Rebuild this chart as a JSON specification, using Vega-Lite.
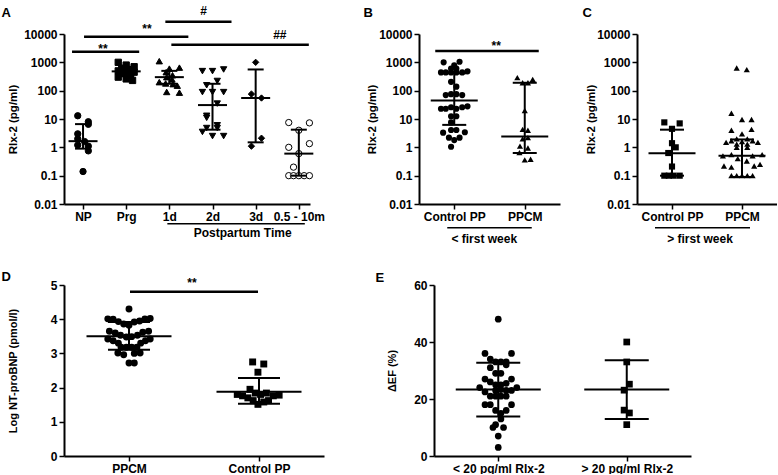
{
"$schema": "https://vega.github.io/schema/vega-lite/v6.json",
"padding": {"left": 1, "top": 4, "right": 0, "bottom": 0},
"bounds": "full",
"spacing": 24,
"resolve": {"scale": {"shape": "independent"}},
"config": {
 "view": {"stroke": null},
 "font": "Liberation Sans",
 "axis": {"domainColor": "black", "domainWidth": 2, "tickColor": "black", "tickWidth": 1.5, "tickSize": 5, "labelColor": "black", "labelFont": "Liberation Sans", "labelFontSize": 12, "labelFontWeight": "bold", "labelPadding": 2, "titleColor": "black", "titleFont": "Liberation Sans", "titleFontSize": 11.5, "titleFontWeight": "bold", "grid": false, "labelOverlap": false},
 "axisX": {"labelAngle": 0, "titleAngle": 0, "titleAlign": "left", "titleBaseline": "top", "titleFontSize": 13, "labelOverlap": false, "labelFlush": false},
 "axisY": {"labelOverlap": false},
 "text": {"font": "Liberation Sans", "fontWeight": "bold", "fontSize": 12, "color": "black"}
},
"datasets": {
 "one": [{}],
 "a_pts": [
  {"g":"NP","v":13,"s":-1},{"g":"NP","v":8,"s":1},{"g":"NP","v":6.5,"s":1},{"g":"NP","v":3,"s":-1},{"g":"NP","v":2,"s":-1},{"g":"NP","v":1.6,"s":0.3},{"g":"NP","v":1.2,"s":-1},{"g":"NP","v":1.1,"s":1},{"g":"NP","v":0.75,"s":1},{"g":"NP","v":0.14,"s":0},
  {"g":"Prg","v":1000,"s":-1.5},{"g":"Prg","v":800,"s":0},{"g":"Prg","v":700,"s":1.5},{"g":"Prg","v":620,"s":-0.8},{"g":"Prg","v":560,"s":0.8},{"g":"Prg","v":500,"s":-1.5},{"g":"Prg","v":480,"s":0},{"g":"Prg","v":450,"s":1.5},{"g":"Prg","v":400,"s":-0.8},{"g":"Prg","v":350,"s":0.8},{"g":"Prg","v":300,"s":-1.5},{"g":"Prg","v":260,"s":0},{"g":"Prg","v":230,"s":1.2},
  {"g":"1d","v":1100,"s":-1.9},{"g":"1d","v":650,"s":1.9},{"g":"1d","v":600,"s":0},{"g":"1d","v":450,"s":-0.6},{"g":"1d","v":350,"s":0.6},{"g":"1d","v":300,"s":-0.5},{"g":"1d","v":250,"s":0.5},{"g":"1d","v":200,"s":-1.9},{"g":"1d","v":180,"s":-0.7},{"g":"1d","v":170,"s":0.7},{"g":"1d","v":150,"s":1.5},{"g":"1d","v":90,"s":-0.5},{"g":"1d","v":85,"s":1.9},
  {"g":"2d","v":560,"s":2.1},{"g":"2d","v":490,"s":-1.9},{"g":"2d","v":490,"s":0},{"g":"2d","v":220,"s":0.9},{"g":"2d","v":155,"s":-1.1},{"g":"2d","v":89,"s":-1.9},{"g":"2d","v":89,"s":0},{"g":"2d","v":89,"s":2.1},{"g":"2d","v":35,"s":0.9},{"g":"2d","v":13,"s":-1.1},{"g":"2d","v":11,"s":-1.1},{"g":"2d","v":6,"s":0.9},{"g":"2d","v":4.8,"s":-1.1},{"g":"2d","v":4.8,"s":0.9},{"g":"2d","v":3.5,"s":-1.9},{"g":"2d","v":2.5,"s":0},{"g":"2d","v":2.5,"s":2.1},
  {"g":"3d","v":1000,"s":0},{"g":"3d","v":76,"s":-0.8},{"g":"3d","v":55,"s":1.1},{"g":"3d","v":2.1,"s":1.1},{"g":"3d","v":1.1,"s":-0.8},
  {"g":"0.5 - 10m","v":7.5,"s":-1.9},{"g":"0.5 - 10m","v":7.3,"s":2},{"g":"0.5 - 10m","v":4.0,"s":0},{"g":"0.5 - 10m","v":1.0,"s":-1.9},{"g":"0.5 - 10m","v":1.35,"s":2},{"g":"0.5 - 10m","v":0.6,"s":0},{"g":"0.5 - 10m","v":0.2,"s":-1},{"g":"0.5 - 10m","v":0.1,"s":-1.9},{"g":"0.5 - 10m","v":0.1,"s":-1},{"g":"0.5 - 10m","v":0.1,"s":0},{"g":"0.5 - 10m","v":0.1,"s":1},{"g":"0.5 - 10m","v":0.1,"s":2}
 ],
 "a_sum": [
  {"g":"NP","med":1.65,"lo":0.9,"hi":6.6},
  {"g":"Prg","med":480,"lo":330,"hi":680},
  {"g":"1d","med":300,"lo":175,"hi":500},
  {"g":"2d","med":31,"lo":4.2,"hi":175},
  {"g":"3d","med":55,"lo":1.5,"hi":560},
  {"g":"0.5 - 10m","med":0.6,"lo":0.1,"hi":4.2}
 ],
 "b_pts": [
  {"g":"Control PP","v":1050,"s":1},{"g":"Control PP","v":1000,"s":-2},{"g":"Control PP","v":790,"s":0},{"g":"Control PP","v":600,"s":-0.6},{"g":"Control PP","v":600,"s":0.4},
  {"g":"Control PP","v":440,"s":-2.5},{"g":"Control PP","v":440,"s":-1.6},{"g":"Control PP","v":440,"s":-0.6},{"g":"Control PP","v":440,"s":0.4},{"g":"Control PP","v":440,"s":1.5},{"g":"Control PP","v":480,"s":2.5},
  {"g":"Control PP","v":205,"s":-0.6},{"g":"Control PP","v":138,"s":0.4},
  {"g":"Control PP","v":70,"s":-1.6},{"g":"Control PP","v":75,"s":-0.6},{"g":"Control PP","v":75,"s":0.4},{"g":"Control PP","v":70,"s":1.5},
  {"g":"Control PP","v":23,"s":-2.5},{"g":"Control PP","v":23,"s":-1.6},{"g":"Control PP","v":26,"s":-0.6},{"g":"Control PP","v":23,"s":0.4},{"g":"Control PP","v":26,"s":1.5},{"g":"Control PP","v":28,"s":2.5},
  {"g":"Control PP","v":12.5,"s":-0.6},{"g":"Control PP","v":12.5,"s":0.4},{"g":"Control PP","v":7.6,"s":-0.6},
  {"g":"Control PP","v":3.3,"s":-2.1},{"g":"Control PP","v":4.1,"s":-0.6},{"g":"Control PP","v":4.1,"s":0.4},{"g":"Control PP","v":3.4,"s":2},
  {"g":"Control PP","v":2.2,"s":-1},{"g":"Control PP","v":1.8,"s":0},{"g":"Control PP","v":2.2,"s":1},{"g":"Control PP","v":1.05,"s":-0.6},
  {"g":"PPCM","v":290,"s":-1.4},{"g":"PPCM","v":190,"s":-0.4},{"g":"PPCM","v":190,"s":0.6},{"g":"PPCM","v":250,"s":1.5},{"g":"PPCM","v":20,"s":0},{"g":"PPCM","v":4.3,"s":-0.4},{"g":"PPCM","v":4.0,"s":0.6},{"g":"PPCM","v":2.0,"s":-0.4},{"g":"PPCM","v":2.2,"s":0.6},{"g":"PPCM","v":1.1,"s":-0.9},{"g":"PPCM","v":0.95,"s":0.6},{"g":"PPCM","v":0.65,"s":-1},{"g":"PPCM","v":0.36,"s":0},{"g":"PPCM","v":0.38,"s":1.1}
 ],
 "b_sum": [
  {"g":"Control PP","med":45,"lo":6.2,"hi":410},
  {"g":"PPCM","med":2.4,"lo":0.63,"hi":190}
 ],
 "c_pts": [
  {"g":"Control PP","v":7.6,"s":-1.45},{"g":"Control PP","v":7.0,"s":1.45},{"g":"Control PP","v":4.5,"s":0},{"g":"Control PP","v":1.4,"s":0},{"g":"Control PP","v":1.0,"s":0.7},{"g":"Control PP","v":0.63,"s":-0.7},{"g":"Control PP","v":0.21,"s":0},{"g":"Control PP","v":0.1,"s":-1.45},{"g":"Control PP","v":0.1,"s":-0.6},{"g":"Control PP","v":0.1,"s":0.3},{"g":"Control PP","v":0.1,"s":1.45},
  {"g":"PPCM","v":630,"s":-1},{"g":"PPCM","v":550,"s":0.9},{"g":"PPCM","v":16,"s":-2},{"g":"PPCM","v":9.6,"s":0},{"g":"PPCM","v":9.6,"s":1.8},{"g":"PPCM","v":4.0,"s":-2},{"g":"PPCM","v":4.3,"s":1.8},{"g":"PPCM","v":3.0,"s":0},
  {"g":"PPCM","v":2.0,"s":-1},{"g":"PPCM","v":2.0,"s":1},{"g":"PPCM","v":1.7,"s":-2},{"g":"PPCM","v":1.6,"s":0},{"g":"PPCM","v":1.7,"s":2},{"g":"PPCM","v":1.5,"s":-3},{"g":"PPCM","v":1.5,"s":3},{"g":"PPCM","v":1.3,"s":-1},{"g":"PPCM","v":1.3,"s":1},
  {"g":"PPCM","v":1.0,"s":-1},{"g":"PPCM","v":1.0,"s":1},
  {"g":"PPCM","v":0.5,"s":-3.6},{"g":"PPCM","v":0.55,"s":-2},{"g":"PPCM","v":0.5,"s":2},{"g":"PPCM","v":0.55,"s":3.8},
  {"g":"PPCM","v":0.4,"s":-0.8},{"g":"PPCM","v":0.33,"s":0.9},
  {"g":"PPCM","v":0.22,"s":-3.4},{"g":"PPCM","v":0.2,"s":-2},{"g":"PPCM","v":0.22,"s":2.3},{"g":"PPCM","v":0.25,"s":3.4},
  {"g":"PPCM","v":0.1,"s":-2},{"g":"PPCM","v":0.1,"s":-1},{"g":"PPCM","v":0.1,"s":0},{"g":"PPCM","v":0.1,"s":1},{"g":"PPCM","v":0.1,"s":2}
 ],
 "c_sum": [
  {"g":"Control PP","med":0.62,"lo":0.1,"hi":4.2},
  {"g":"PPCM","med":0.5,"lo":0.09,"hi":1.9}
 ],
 "d_pts": [
  {"g":"PPCM","v":4.30,"s":0},
  {"g":"PPCM","v":4.01,"s":-4},{"g":"PPCM","v":4.0,"s":-3},{"g":"PPCM","v":4.01,"s":3},{"g":"PPCM","v":4.02,"s":4},
  {"g":"PPCM","v":3.93,"s":-2},{"g":"PPCM","v":3.86,"s":-1},{"g":"PPCM","v":3.82,"s":0},{"g":"PPCM","v":3.92,"s":1},{"g":"PPCM","v":3.95,"s":2},
  {"g":"PPCM","v":3.65,"s":-3.7},{"g":"PPCM","v":3.6,"s":-2.6},{"g":"PPCM","v":3.62,"s":2.6},{"g":"PPCM","v":3.65,"s":3.7},
  {"g":"PPCM","v":3.53,"s":-1.6},{"g":"PPCM","v":3.48,"s":-0.5},{"g":"PPCM","v":3.49,"s":0.5},{"g":"PPCM","v":3.53,"s":1.6},
  {"g":"PPCM","v":3.42,"s":-4},{"g":"PPCM","v":3.37,"s":-3},{"g":"PPCM","v":3.3,"s":-2},{"g":"PPCM","v":3.3,"s":2.2},{"g":"PPCM","v":3.37,"s":3.1},{"g":"PPCM","v":3.42,"s":4},
  {"g":"PPCM","v":3.18,"s":-1.5},{"g":"PPCM","v":3.18,"s":-0.5},{"g":"PPCM","v":3.18,"s":0.5},{"g":"PPCM","v":3.18,"s":1.5},
  {"g":"PPCM","v":3.01,"s":-2.1},{"g":"PPCM","v":2.96,"s":-1},{"g":"PPCM","v":3.0,"s":1},{"g":"PPCM","v":3.01,"s":2.1},
  {"g":"PPCM","v":2.72,"s":0},{"g":"PPCM","v":2.72,"s":1},
  {"g":"Control PP","v":2.75,"s":-1.2},{"g":"Control PP","v":2.69,"s":0.9},{"g":"Control PP","v":2.45,"s":-0.2},{"g":"Control PP","v":1.95,"s":-1.7},{"g":"Control PP","v":1.80,"s":-4.1},{"g":"Control PP","v":1.76,"s":-3.1},{"g":"Control PP","v":1.70,"s":-2.1},{"g":"Control PP","v":1.84,"s":-0.7},{"g":"Control PP","v":1.80,"s":0.3},{"g":"Control PP","v":1.84,"s":1.4},{"g":"Control PP","v":1.76,"s":2.7},{"g":"Control PP","v":1.78,"s":3.8},{"g":"Control PP","v":1.62,"s":-1.1},{"g":"Control PP","v":1.51,"s":-0.2},{"g":"Control PP","v":1.58,"s":0.9},{"g":"Control PP","v":1.62,"s":1.8}
 ],
 "d_sum": [
  {"g":"PPCM","med":3.5,"lo":3.11,"hi":3.92},
  {"g":"Control PP","med":1.88,"lo":1.53,"hi":2.28}
 ],
 "e_pts": [
  {"g":"< 20 pg/ml Rlx-2","v":48,"s":0},{"g":"< 20 pg/ml Rlx-2","v":36,"s":-2.5},{"g":"< 20 pg/ml Rlx-2","v":36,"s":2.5},{"g":"< 20 pg/ml Rlx-2","v":34,"s":-1.5},{"g":"< 20 pg/ml Rlx-2","v":33,"s":-0.5},{"g":"< 20 pg/ml Rlx-2","v":33,"s":0.5},{"g":"< 20 pg/ml Rlx-2","v":33,"s":1.5},{"g":"< 20 pg/ml Rlx-2","v":31,"s":-1.5},{"g":"< 20 pg/ml Rlx-2","v":32,"s":1.5},{"g":"< 20 pg/ml Rlx-2","v":29,"s":-0.5},{"g":"< 20 pg/ml Rlx-2","v":29,"s":0.5},{"g":"< 20 pg/ml Rlx-2","v":27,"s":-2.5},{"g":"< 20 pg/ml Rlx-2","v":27,"s":2.5},{"g":"< 20 pg/ml Rlx-2","v":26,"s":-1.5},{"g":"< 20 pg/ml Rlx-2","v":25,"s":-0.5},{"g":"< 20 pg/ml Rlx-2","v":25,"s":0.5},{"g":"< 20 pg/ml Rlx-2","v":25.5,"s":1.5},{"g":"< 20 pg/ml Rlx-2","v":24,"s":-3.5},{"g":"< 20 pg/ml Rlx-2","v":22.5,"s":-2.5},{"g":"< 20 pg/ml Rlx-2","v":23,"s":-0.5},{"g":"< 20 pg/ml Rlx-2","v":23.3,"s":0.5},{"g":"< 20 pg/ml Rlx-2","v":23,"s":1.5},{"g":"< 20 pg/ml Rlx-2","v":23,"s":2.5},{"g":"< 20 pg/ml Rlx-2","v":24,"s":3.5},{"g":"< 20 pg/ml Rlx-2","v":21,"s":-1.5},{"g":"< 20 pg/ml Rlx-2","v":21,"s":-0.5},{"g":"< 20 pg/ml Rlx-2","v":21,"s":0.5},{"g":"< 20 pg/ml Rlx-2","v":21,"s":1.5},{"g":"< 20 pg/ml Rlx-2","v":18,"s":-2.5},{"g":"< 20 pg/ml Rlx-2","v":18,"s":-1.5},{"g":"< 20 pg/ml Rlx-2","v":18,"s":2.5},{"g":"< 20 pg/ml Rlx-2","v":16,"s":-0.5},{"g":"< 20 pg/ml Rlx-2","v":15,"s":0.5},{"g":"< 20 pg/ml Rlx-2","v":16,"s":1.5},{"g":"< 20 pg/ml Rlx-2","v":13,"s":0.5},{"g":"< 20 pg/ml Rlx-2","v":11,"s":-0.5},{"g":"< 20 pg/ml Rlx-2","v":10,"s":-1},{"g":"< 20 pg/ml Rlx-2","v":10,"s":1},{"g":"< 20 pg/ml Rlx-2","v":7,"s":0},{"g":"< 20 pg/ml Rlx-2","v":3,"s":0},
  {"g":"> 20 pg/ml Rlx-2","v":40,"s":0},{"g":"> 20 pg/ml Rlx-2","v":33,"s":0},{"g":"> 20 pg/ml Rlx-2","v":25.2,"s":0.5},{"g":"> 20 pg/ml Rlx-2","v":23.1,"s":-0.5},{"g":"> 20 pg/ml Rlx-2","v":16.1,"s":-0.5},{"g":"> 20 pg/ml Rlx-2","v":15.1,"s":0.5},{"g":"> 20 pg/ml Rlx-2","v":11,"s":0}
 ],
 "e_sum": [
  {"g":"< 20 pg/ml Rlx-2","med":23.3,"lo":13.9,"hi":32.7},
  {"g":"> 20 pg/ml Rlx-2","med":23.3,"lo":13,"hi":33.6}
 ]
},
"vconcat": [
 {"bounds": "flush", "spacing": 109, "resolve": {"scale": {"shape": "independent"}}, "hconcat": [
  {"width": 246, "height": 170,
   "layer": [
    {"data": {"name": "a_pts"},
     "mark": {"type": "point", "filled": true, "size": 40, "opacity": 1, "stroke": "black", "strokeWidth": 1},
     "encoding": {
      "x": {"field": "g", "type": "nominal", "scale": {"type": "point", "domain": ["NP","Prg","1d","2d","3d","0.5 - 10m"], "padding": 0.35, "align": 0.63},
            "axis": {"title": "A", "titleX": -63, "titleY": -198}},
      "xOffset": {"field": "s", "type": "quantitative", "scale": {"domain": [-5,5], "range": [-26.5,26.5]}},
      "y": {"field": "v", "type": "quantitative", "scale": {"type": "log", "domain": [0.01,10000]},
            "axis": {"title": "Rlx-2 (pg/ml)", "values": [0.01,0.1,1,10,100,1000,10000], "format": "~g", "titlePadding": 5, "labelOverlap": false}},
      "shape": {"field": "g", "type": "nominal", "scale": {"domain": ["NP","Prg","1d","2d","3d","0.5 - 10m"], "range": ["circle","square","triangle-up","triangle-down","diamond","circle"]}, "legend": null},
      "fill": {"condition": {"test": "datum.g === '0.5 - 10m'", "value": "white"}, "value": "black"}
     }},
    {"data": {"name": "a_sum"}, "mark": {"type": "rule", "strokeWidth": 2, "color": "black"},
     "encoding": {"x": {"field": "g", "type": "nominal"}, "y": {"field": "lo", "type": "quantitative"}, "y2": {"field": "hi"}}},
    {"data": {"name": "a_sum"}, "mark": {"type": "tick", "orient": "horizontal", "size": 29, "thickness": 2, "color": "black", "opacity": 1},
     "encoding": {"x": {"field": "g", "type": "nominal"}, "y": {"field": "med", "type": "quantitative"}}},
    {"data": {"name": "a_sum"}, "mark": {"type": "tick", "orient": "horizontal", "size": 16, "thickness": 2, "color": "black", "opacity": 1},
     "encoding": {"x": {"field": "g", "type": "nominal"}, "y": {"field": "lo", "type": "quantitative"}}},
    {"data": {"name": "a_sum"}, "mark": {"type": "tick", "orient": "horizontal", "size": 16, "thickness": 2, "color": "black", "opacity": 1},
     "encoding": {"x": {"field": "g", "type": "nominal"}, "y": {"field": "hi", "type": "quantitative"}}},
    {"data": {"name": "one"}, "mark": {"type": "rule", "strokeWidth": 2.5, "color": "black", "xOffset": -11, "x2Offset": 13},
     "encoding": {"x": {"datum": "NP"}, "x2": {"datum": "Prg"}, "y": {"datum": 2370}}},
    {"data": {"name": "one"}, "mark": {"type": "rule", "strokeWidth": 2.5, "color": "black", "xOffset": 1, "x2Offset": 19},
     "encoding": {"x": {"datum": "NP"}, "x2": {"datum": "1d"}, "y": {"datum": 8040}}},
    {"data": {"name": "one"}, "mark": {"type": "rule", "strokeWidth": 2.5, "color": "black", "xOffset": -4, "x2Offset": 19},
     "encoding": {"x": {"datum": "1d"}, "x2": {"datum": "2d"}, "y": {"datum": 27200}}},
    {"data": {"name": "one"}, "mark": {"type": "rule", "strokeWidth": 2.5, "color": "black", "xOffset": 2, "x2Offset": 10},
     "encoding": {"x": {"datum": "1d"}, "x2": {"datum": "0.5 - 10m"}, "y": {"datum": 4170}}},
    {"data": {"name": "one"}, "mark": {"type": "text", "text": "**", "dx": 20, "baseline": "middle"},
     "encoding": {"x": {"datum": "NP"}, "y": {"datum": 2900}}},
    {"data": {"name": "one"}, "mark": {"type": "text", "text": "**", "dx": 64, "baseline": "middle"},
     "encoding": {"x": {"datum": "NP"}, "y": {"datum": 14900}}},
    {"data": {"name": "one"}, "mark": {"type": "text", "text": "#", "dx": -9, "baseline": "middle"},
     "encoding": {"x": {"datum": "2d"}, "y": {"datum": 66000}}},
    {"data": {"name": "one"}, "mark": {"type": "text", "text": "##", "dx": -19, "baseline": "middle"},
     "encoding": {"x": {"datum": "0.5 - 10m"}, "y": {"datum": 9450}}},
    {"data": {"name": "one"}, "mark": {"type": "rule", "strokeWidth": 1.5, "color": "black", "xOffset": -2, "x2Offset": 6},
     "encoding": {"x": {"datum": "1d"}, "x2": {"datum": "0.5 - 10m"}, "y": {"datum": 0.00202}}},
    {"data": {"name": "one"}, "mark": {"type": "text", "text": "Postpartum Time", "dx": -13, "baseline": "middle"},
     "encoding": {"x": {"datum": "3d"}, "y": {"datum": 0.00097}}}
   ]},
  {"bounds": "flush", "spacing": 77, "resolve": {"scale": {"shape": "independent"}}, "hconcat": [
   {"width": 141, "height": 170,
    "layer": [
     {"data": {"name": "b_pts"},
      "mark": {"type": "point", "filled": true, "size": 38, "opacity": 1},
      "encoding": {
       "x": {"field": "g", "type": "nominal", "scale": {"type": "point", "domain": ["Control PP","PPCM"], "padding": 0.5, "align": 0.5},
             "axis": {"title": "B", "titleX": -56, "titleY": -198}},
       "xOffset": {"field": "s", "type": "quantitative", "scale": {"domain": [-5,5], "range": [-38.5,38.5]}},
       "y": {"field": "v", "type": "quantitative", "scale": {"type": "log", "domain": [0.01,10000]},
             "axis": {"title": "Rlx-2 (pg/ml)", "values": [0.01,0.1,1,10,100,1000,10000], "format": "~g", "titlePadding": 1, "labelOverlap": false}},
       "shape": {"field": "g", "type": "nominal", "scale": {"domain": ["Control PP","PPCM"], "range": ["circle","triangle-up"]}, "legend": null},
       "color": {"value": "black"}
      }},
     {"data": {"name": "b_sum"}, "mark": {"type": "rule", "strokeWidth": 2, "color": "black"},
      "encoding": {"x": {"field": "g", "type": "nominal"}, "y": {"field": "lo", "type": "quantitative"}, "y2": {"field": "hi"}}},
     {"data": {"name": "b_sum"}, "mark": {"type": "tick", "orient": "horizontal", "size": 47, "thickness": 2, "color": "black", "opacity": 1},
      "encoding": {"x": {"field": "g", "type": "nominal"}, "y": {"field": "med", "type": "quantitative"}}},
     {"data": {"name": "b_sum"}, "mark": {"type": "tick", "orient": "horizontal", "size": 24, "thickness": 2, "color": "black", "opacity": 1},
      "encoding": {"x": {"field": "g", "type": "nominal"}, "y": {"field": "lo", "type": "quantitative"}}},
     {"data": {"name": "b_sum"}, "mark": {"type": "tick", "orient": "horizontal", "size": 24, "thickness": 2, "color": "black", "opacity": 1},
      "encoding": {"x": {"field": "g", "type": "nominal"}, "y": {"field": "hi", "type": "quantitative"}}},
     {"data": {"name": "one"}, "mark": {"type": "rule", "strokeWidth": 2.5, "color": "black", "xOffset": -19, "x2Offset": 14},
      "encoding": {"x": {"datum": "Control PP"}, "x2": {"datum": "PPCM"}, "y": {"datum": 2500}}},
     {"data": {"name": "one"}, "mark": {"type": "text", "text": "**", "dx": 42, "baseline": "middle"},
      "encoding": {"x": {"datum": "Control PP"}, "y": {"datum": 3800}}},
     {"data": {"name": "one"}, "mark": {"type": "rule", "strokeWidth": 1.5, "color": "black", "xOffset": -7, "x2Offset": 7},
      "encoding": {"x": {"datum": "Control PP"}, "x2": {"datum": "PPCM"}, "y": {"datum": 0.00145}}},
     {"data": {"name": "one"}, "mark": {"type": "text", "text": "< first week", "dx": 30, "baseline": "middle"},
      "encoding": {"x": {"datum": "Control PP"}, "y": {"datum": 0.00058}}}
    ]},
   {"width": 140, "height": 170,
    "layer": [
     {"data": {"name": "c_pts"},
      "mark": {"type": "point", "filled": true, "size": 38, "opacity": 1},
      "encoding": {
       "x": {"field": "g", "type": "nominal", "scale": {"type": "point", "domain": ["Control PP","PPCM"], "padding": 0.5, "align": 0.5},
             "axis": {"title": "C", "titleX": -55, "titleY": -198}},
       "xOffset": {"field": "s", "type": "quantitative", "scale": {"domain": [-5,5], "range": [-26.5,26.5]}},
       "y": {"field": "v", "type": "quantitative", "scale": {"type": "log", "domain": [0.01,10000]},
             "axis": {"title": "Rlx-2 (pg/ml)", "values": [0.01,0.1,1,10,100,1000,10000], "format": "~g", "titlePadding": 0, "labelOverlap": false}},
       "shape": {"field": "g", "type": "nominal", "scale": {"domain": ["Control PP","PPCM"], "range": ["square","triangle-up"]}, "legend": null},
       "color": {"value": "black"}
      }},
     {"data": {"name": "c_sum"}, "mark": {"type": "rule", "strokeWidth": 2, "color": "black"},
      "encoding": {"x": {"field": "g", "type": "nominal"}, "y": {"field": "lo", "type": "quantitative"}, "y2": {"field": "hi"}}},
     {"data": {"name": "c_sum"}, "mark": {"type": "tick", "orient": "horizontal", "size": 47, "thickness": 2, "color": "black", "opacity": 1},
      "encoding": {"x": {"field": "g", "type": "nominal"}, "y": {"field": "med", "type": "quantitative"}}},
     {"data": {"name": "c_sum"}, "mark": {"type": "tick", "orient": "horizontal", "size": 24, "thickness": 2, "color": "black", "opacity": 1},
      "encoding": {"x": {"field": "g", "type": "nominal"}, "y": {"field": "lo", "type": "quantitative"}}},
     {"data": {"name": "c_sum"}, "mark": {"type": "tick", "orient": "horizontal", "size": 24, "thickness": 2, "color": "black", "opacity": 1},
      "encoding": {"x": {"field": "g", "type": "nominal"}, "y": {"field": "hi", "type": "quantitative"}}},
     {"data": {"name": "one"}, "mark": {"type": "rule", "strokeWidth": 1.5, "color": "black", "xOffset": -17, "x2Offset": 8},
      "encoding": {"x": {"datum": "Control PP"}, "x2": {"datum": "PPCM"}, "y": {"datum": 0.00145}}},
     {"data": {"name": "one"}, "mark": {"type": "text", "text": "> first week", "dx": 28, "baseline": "middle"},
      "encoding": {"x": {"datum": "Control PP"}, "y": {"datum": 0.00058}}}
    ]}
  ]}
 ]},
 {"bounds": "flush", "spacing": 110, "resolve": {"scale": {"shape": "independent"}}, "hconcat": [
  {"width": 260, "height": 171,
   "layer": [
    {"data": {"name": "d_pts"},
     "mark": {"type": "point", "filled": true, "size": 48, "opacity": 1},
     "encoding": {
      "x": {"field": "g", "type": "nominal", "scale": {"type": "point", "domain": ["PPCM","Control PP"], "padding": 0.5, "align": 0.5},
            "axis": {"title": "D", "titleX": -63, "titleY": -186}},
      "xOffset": {"field": "s", "type": "quantitative", "scale": {"domain": [-5,5], "range": [-48.5,48.5]}},
      "y": {"field": "v", "type": "quantitative", "scale": {"domain": [0,5], "nice": false},
            "axis": {"title": "Log NT-proBNP (pmol/l)", "values": [0,1,2,3,4,5], "tickCount": 6, "format": "d", "titlePadding": 32, "titleFontSize": 11, "labelOverlap": false, "labelSeparation": 0}},
      "shape": {"field": "g", "type": "nominal", "scale": {"domain": ["PPCM","Control PP"], "range": ["circle","square"]}, "legend": null},
      "color": {"value": "black"}
     }},
    {"data": {"name": "d_sum"}, "mark": {"type": "rule", "strokeWidth": 2, "color": "black"},
     "encoding": {"x": {"field": "g", "type": "nominal"}, "y": {"field": "lo", "type": "quantitative"}, "y2": {"field": "hi"}}},
    {"data": {"name": "d_sum"}, "mark": {"type": "tick", "orient": "horizontal", "size": 85, "thickness": 2, "color": "black", "opacity": 1},
     "encoding": {"x": {"field": "g", "type": "nominal"}, "y": {"field": "med", "type": "quantitative"}}},
    {"data": {"name": "d_sum"}, "mark": {"type": "tick", "orient": "horizontal", "size": 42, "thickness": 2, "color": "black", "opacity": 1},
     "encoding": {"x": {"field": "g", "type": "nominal"}, "y": {"field": "lo", "type": "quantitative"}}},
    {"data": {"name": "d_sum"}, "mark": {"type": "tick", "orient": "horizontal", "size": 42, "thickness": 2, "color": "black", "opacity": 1},
     "encoding": {"x": {"field": "g", "type": "nominal"}, "y": {"field": "hi", "type": "quantitative"}}},
    {"data": {"name": "one"}, "mark": {"type": "rule", "strokeWidth": 2.5, "color": "black", "xOffset": 1, "x2Offset": -1},
     "encoding": {"x": {"datum": "PPCM"}, "x2": {"datum": "Control PP"}, "y": {"datum": 4.8}}},
    {"data": {"name": "one"}, "mark": {"type": "text", "text": "**", "dx": 63, "baseline": "middle"},
     "encoding": {"x": {"datum": "PPCM"}, "y": {"datum": 5.05}}}
   ]},
  {"width": 257, "height": 171,
   "layer": [
    {"data": {"name": "e_pts"},
     "mark": {"type": "point", "filled": true, "size": 45, "opacity": 1},
     "encoding": {
      "x": {"field": "g", "type": "nominal", "scale": {"type": "point", "domain": ["< 20 pg/ml Rlx-2","> 20 pg/ml Rlx-2"], "padding": 0.5, "align": 0.5},
            "axis": {"title": "E", "titleX": -59, "titleY": -185}},
      "xOffset": {"field": "s", "type": "quantitative", "scale": {"domain": [-5,5], "range": [-51.5,51.5]}},
      "y": {"field": "v", "type": "quantitative", "scale": {"domain": [0,60], "nice": false},
            "axis": {"title": "ΔEF (%)", "values": [0,20,40,60], "format": "d", "titlePadding": 16, "titleFontSize": 11, "labelOverlap": false}},
      "shape": {"field": "g", "type": "nominal", "scale": {"domain": ["< 20 pg/ml Rlx-2","> 20 pg/ml Rlx-2"], "range": ["circle","square"]}, "legend": null},
      "color": {"value": "black"}
     }},
    {"data": {"name": "e_sum"}, "mark": {"type": "rule", "strokeWidth": 2, "color": "black"},
     "encoding": {"x": {"field": "g", "type": "nominal"}, "y": {"field": "lo", "type": "quantitative"}, "y2": {"field": "hi"}}},
    {"data": {"name": "e_sum"}, "mark": {"type": "tick", "orient": "horizontal", "size": 85, "thickness": 2, "color": "black", "opacity": 1},
     "encoding": {"x": {"field": "g", "type": "nominal"}, "y": {"field": "med", "type": "quantitative"}}},
    {"data": {"name": "e_sum"}, "mark": {"type": "tick", "orient": "horizontal", "size": 44, "thickness": 2, "color": "black", "opacity": 1},
     "encoding": {"x": {"field": "g", "type": "nominal"}, "y": {"field": "lo", "type": "quantitative"}}},
    {"data": {"name": "e_sum"}, "mark": {"type": "tick", "orient": "horizontal", "size": 44, "thickness": 2, "color": "black", "opacity": 1},
     "encoding": {"x": {"field": "g", "type": "nominal"}, "y": {"field": "hi", "type": "quantitative"}}}
   ]}
 ]}
]
}
